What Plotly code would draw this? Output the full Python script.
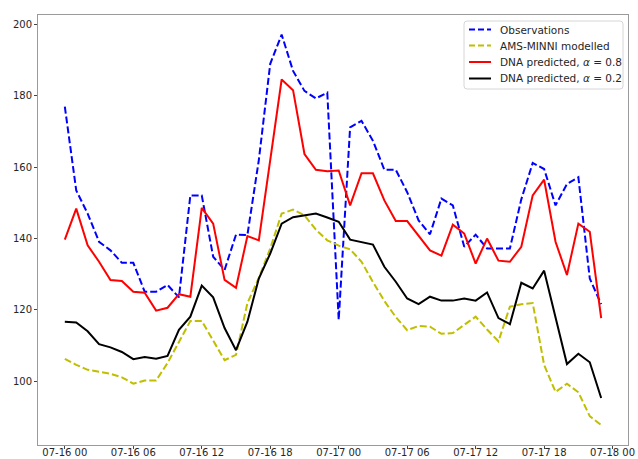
import pandas as pd
import plotly.graph_objects as go

# Hourly timestamps, 07-16 00:00 through 07-17 23:00
times = pd.date_range("2019-07-16 00:00", periods=48, freq="h")

observations = [
    177.0, 153.5, 147.0, 139.1, 136.7, 133.2, 133.2, 125.1, 125.1, 127.0,
    123.5, 152.1, 152.1, 134.9, 131.2, 141.1, 141.0, 162.0, 189.0, 197.2,
    187.0, 181.4, 179.3, 180.9, 117.2, 171.2, 173.0, 167.4, 159.3, 159.3,
    153.0, 145.1, 141.2, 151.2, 149.3, 137.7, 141.1, 137.2, 137.2, 137.2,
    151.0, 161.2, 159.5, 149.3, 155.3, 157.2, 128.8, 121.6,
]

ams_minni = [
    106.3, 104.6, 103.2, 102.6, 102.1, 101.1, 99.3, 100.2, 100.2, 105.1,
    111.2, 116.9, 116.9, 111.6, 105.9, 107.4, 121.9, 129.0, 137.2, 147.0,
    148.1, 146.5, 142.5, 139.5, 138.0, 137.0, 133.5, 127.8, 122.5, 118.0,
    114.3, 115.5, 115.3, 113.3, 113.5, 115.8, 118.1, 114.5, 111.2, 120.9,
    121.6, 121.9, 104.6, 97.0, 99.3, 96.9, 90.2, 87.7,
]

dna_08 = [
    139.7, 148.4, 138.1, 133.5, 128.4, 128.1, 125.1, 124.8, 119.8, 120.6,
    124.4, 123.7, 148.6, 144.2, 128.4, 126.2, 140.7, 139.5, 162.0, 184.6,
    181.6, 163.7, 159.3, 158.9, 159.1, 149.3, 158.3, 158.3, 150.7, 144.9,
    144.9, 140.8, 136.7, 135.2, 143.9, 141.4, 133.0, 140.0, 133.8, 133.5,
    137.7, 152.1, 156.5, 139.1, 129.8, 144.2, 141.9, 117.7,
]

dna_02 = [
    116.7, 116.5, 114.0, 110.4, 109.5, 108.2, 106.2, 106.8, 106.3, 107.1,
    114.4, 118.1, 126.8, 123.5, 114.9, 108.7, 116.7, 128.8, 135.8, 144.2,
    146.0, 146.5, 147.0, 145.9, 144.7, 139.7, 139.1, 138.3, 132.1, 127.9,
    123.2, 121.6, 123.7, 122.6, 122.6, 123.2, 122.6, 124.9, 117.7, 116.0,
    127.6, 126.0, 131.0, 118.0, 104.8, 107.7, 105.3, 95.3,
]

series_names = [
    "Observations",
    "AMS-MINNI modelled",
    "DNA predicted, <i>α</i> = 0.8",
    "DNA predicted, <i>α</i> = 0.2",
]
series_values = [observations, ams_minni, dna_08, dna_02]
series_colors = ["#0000ff", "#bfbf00", "#ff0000", "#000000"]
series_dash = ["7px,3px", "7px,3px", "solid", "solid"]

x_ticks = pd.date_range("2019-07-16 00:00", "2019-07-18 00:00", freq="6h")
y_ticks = [100, 120, 140, 160, 180, 200]

W, H = 638, 459
M_L, M_R, M_T, M_B = 38, 10, 15, 14
PW, PH = W - M_L - M_R, H - M_T - M_B


def px_x(px):
    """Horizontal pixel position -> paper fraction."""
    return (px - M_L) / PW


def px_y(py):
    """Vertical pixel position (from top) -> paper fraction."""
    return 1 - (py - M_T) / PH


fig = go.Figure()
for name, vals, color, dash in zip(series_names, series_values, series_colors, series_dash):
    fig.add_trace(go.Scatter(
        x=times, y=vals, mode="lines", name=name,
        line=dict(color=color, width=2, dash=dash),
        showlegend=False,
    ))

# Legend box drawn in paper space: frame, sample lines and labels
box_l, box_r, box_t, box_b = 464, 623, 21, 89
r = 3
path = (
    f"M {px_x(box_l + r)},{px_y(box_t)} L {px_x(box_r - r)},{px_y(box_t)} "
    f"Q {px_x(box_r)},{px_y(box_t)} {px_x(box_r)},{px_y(box_t + r)} "
    f"L {px_x(box_r)},{px_y(box_b - r)} "
    f"Q {px_x(box_r)},{px_y(box_b)} {px_x(box_r - r)},{px_y(box_b)} "
    f"L {px_x(box_l + r)},{px_y(box_b)} "
    f"Q {px_x(box_l)},{px_y(box_b)} {px_x(box_l)},{px_y(box_b - r)} "
    f"L {px_x(box_l)},{px_y(box_t + r)} "
    f"Q {px_x(box_l)},{px_y(box_t)} {px_x(box_l + r)},{px_y(box_t)} Z"
)
shapes = [dict(
    type="path", path=path, xref="paper", yref="paper",
    fillcolor="rgba(255,255,255,0.8)", line=dict(color="#d6d6d6", width=1),
    layer="above",
)]
annotations = []
row_y = [29.5, 45.5, 62.0, 78.5]
for name, color, dash, ry in zip(series_names, series_colors, series_dash, row_y):
    shapes.append(dict(
        type="line", xref="paper", yref="paper",
        x0=px_x(469), x1=px_x(491), y0=px_y(ry), y1=px_y(ry),
        line=dict(color=color, width=2, dash="6px,3px" if dash != "solid" else "solid"),
        layer="above",
    ))
    annotations.append(dict(
        text=name, xref="paper", yref="paper",
        x=px_x(498), y=px_y(ry), xanchor="left", yanchor="middle",
        showarrow=False,
        font=dict(family="DejaVu Sans", size=10.5, color="#262626"),
    ))

span_h = 47
pad = pd.Timedelta(hours=span_h * 0.05)
y_min, y_max = 87.6, 197.2
y_pad = (y_max - y_min) * 0.05

axis_common = dict(
    showgrid=False, zeroline=False,
    showline=True, mirror=True, linecolor="#9a9a9a", linewidth=1,
    ticks="outside", ticklen=3, tickcolor="#444", tickwidth=1,
    tickfont=dict(family="DejaVu Sans", size=10, color="#262626"),
    automargin=False,
)

fig.update_layout(
    width=W, height=H,
    margin=dict(l=M_L, r=M_R, t=M_T, b=M_B),
    paper_bgcolor="white", plot_bgcolor="white",
    showlegend=False,
    shapes=shapes,
    annotations=annotations,
    xaxis=dict(
        axis_common,
        type="date",
        range=[times[0] - pad, times[-1] + pad],
        tickvals=list(x_ticks),
        ticktext=[t.strftime("%m-%d %H") for t in x_ticks],
        ticklabelstandoff=-5,
    ),
    yaxis=dict(
        axis_common,
        range=[y_min - y_pad, y_max + y_pad],
        tickvals=y_ticks,
        ticktext=[str(v) for v in y_ticks],
    ),
)

fig.write_html("out.html")
